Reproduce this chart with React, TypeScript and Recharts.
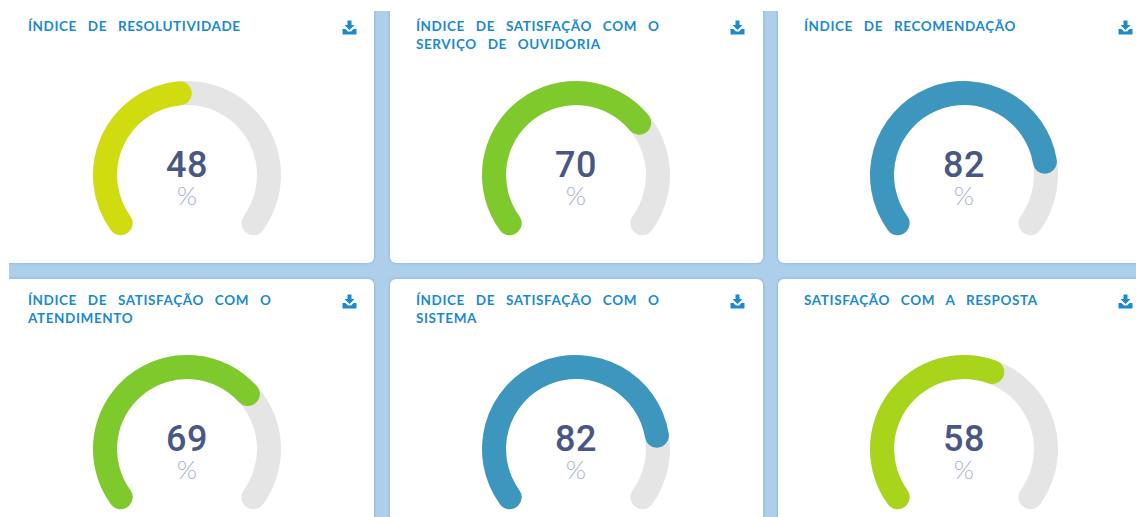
import React from "react";
import { RadialBarChart, RadialBar, PolarAngleAxis } from "recharts";

const titles = [
  ["ÍNDICE DE RESOLUTIVIDADE"],
  ["ÍNDICE DE SATISFAÇÃO COM O", "SERVIÇO DE OUVIDORIA"],
  ["ÍNDICE DE RECOMENDAÇÃO"],
  ["ÍNDICE DE SATISFAÇÃO COM O", "ATENDIMENTO"],
  ["ÍNDICE DE SATISFAÇÃO COM O", "SISTEMA"],
  ["SATISFAÇÃO COM A RESPOSTA"],
];
const values = [48, 70, 82, 69, 82, 58];
const colors = ["#d0dc10", "#7ec92c", "#3c96bd", "#7ec92c", "#3c96bd", "#a8d41c"];
const TRACK_VALUE = 100;
const TRACK_COLOR = "#e5e5e5";

const FONT = "'Lato', 'Open Sans', sans-serif";
const CARD_X = [[-10, 365], [381, 754], [769, 1140]];
const CARD_Y = [[-20, 252], [268, 530]];
const CENTER_X = [187, 575.5, 964];
const CENTER_Y = [175, 449];
const TITLE_X = [28, 416, 804];
const TITLE_Y = [17, 291];
const ICON_X = [342, 730, 1118];
const ICON_Y = [20, 294];

function Icon({ x, y }: { x: number; y: number }) {
  return (
    <svg style={{ position: "absolute", left: x, top: y }} width={15} height={15} viewBox="0 0 15 15">
      <path d="M5.5 0.5 H9.5 V5 H12.5 L7.5 10 L2.5 5 H5.5 Z" fill="#1a8ad0" />
      <path d="M0.5 9 H3.5 L6 11.5 H9 L11.5 9 H14.5 V14.5 H0.5 Z" fill="#1a8ad0" />
    </svg>
  );
}

function Arc({ value, color, size, children }: { value: number; color: string; size: number; children?: React.ReactNode }) {
  return (
    <div style={{ position: "absolute", left: 0, top: 0 }}>
      <RadialBarChart
        width={size}
        height={size}
        cx={size / 2}
        cy={size / 2}
        innerRadius={69}
        outerRadius={95}
        startAngle={216}
        endAngle={-36}
        margin={{ top: 0, right: 0, bottom: 0, left: 0 }}
        data={[{ name: "v", value }]}
      >
        <PolarAngleAxis type="number" domain={[0, 100]} tick={false} axisLine={false} />
        <RadialBar dataKey="value" fill={color} barSize={24} cornerRadius={12} cornerIsExternal isAnimationActive={false} />
        {children}
      </RadialBarChart>
    </div>
  );
}

function Gauge({ value, color, cx, cy }: { value: number; color: string; cx: number; cy: number }) {
  const size = 210;
  return (
    <div style={{ position: "absolute", left: cx - size / 2, top: cy - size / 2, width: size, height: size }}>
      <Arc value={TRACK_VALUE} color={TRACK_COLOR} size={size} />
      <Arc value={value} color={color} size={size}>
        <text x={size / 2} y={size / 2 + 2} textAnchor="middle" fontFamily="Roboto, sans-serif" fontSize={36} fontWeight={500} letterSpacing={0.5} fill="#4a5785">
          {value}
        </text>
        <text x={size / 2} y={size / 2 + 30} textAnchor="middle" fontFamily={FONT} fontSize={26} fontWeight={300} fill="#a9b2cf">
          %
        </text>
      </Arc>
    </div>
  );
}

export default function App() {
  return (
    <div style={{ position: "fixed", left: 0, top: 0, width: 1136, height: 517, overflow: "hidden", background: "#ffffff" }}>
      <div style={{ position: "absolute", left: 9, top: 11, width: 1127, height: 506, background: "#aecfec", overflow: "hidden" }}>
        {values.map((v, i) => {
          const [x0, x1] = CARD_X[i % 3];
          const [y0, y1] = CARD_Y[Math.floor(i / 3)];
          return (
            <div
              key={i}
              style={{
                position: "absolute",
                left: x0,
                top: y0,
                width: x1 - x0,
                height: y1 - y0,
                background: "#fff",
                borderRadius: 6,
                boxShadow: "0 0 3px rgba(90,130,170,0.5)",
              }}
            />
          );
        })}
      </div>
      {values.map((v, i) => {
        const col = i % 3;
        const row = Math.floor(i / 3);
        return (
          <React.Fragment key={i}>
            <div
              style={{
                position: "absolute",
                left: TITLE_X[col],
                top: TITLE_Y[row],
                fontFamily: FONT,
                fontSize: 13.5,
                fontWeight: 700,
                lineHeight: "18px",
                letterSpacing: 0.6,
                wordSpacing: 7,
                color: "#1a8ad0",
                whiteSpace: "nowrap",
              }}
            >
              {titles[i].map((t) => (
                <div key={t}>{t}</div>
              ))}
            </div>
            <Icon x={ICON_X[col]} y={ICON_Y[row]} />
            <Gauge value={v} color={colors[i]} cx={CENTER_X[col]} cy={CENTER_Y[row]} />
          </React.Fragment>
        );
      })}
    </div>
  );
}
